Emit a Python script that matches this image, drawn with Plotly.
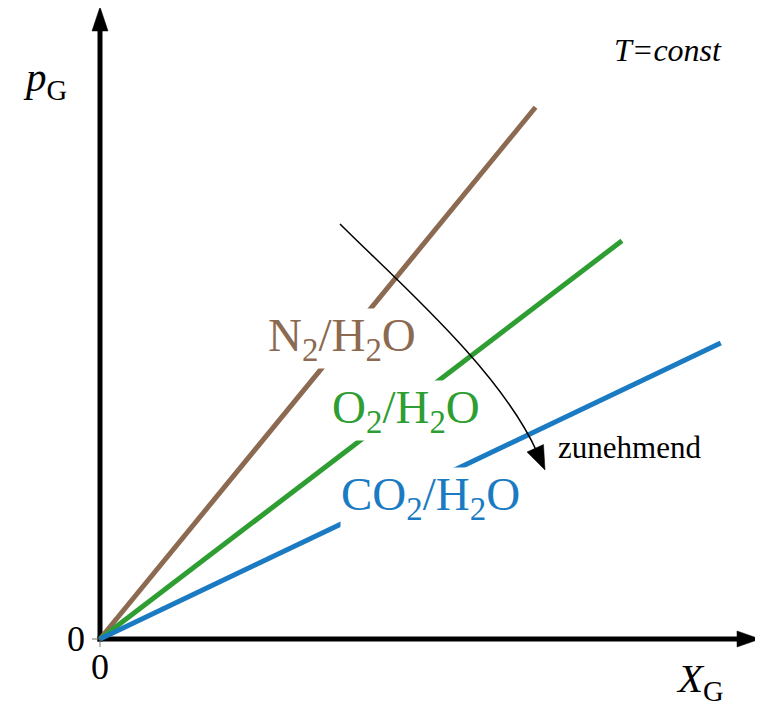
import plotly.graph_objects as go

# ---------------- data ----------------
gases = ["N<sub>2</sub>/H<sub>2</sub>O", "O<sub>2</sub>/H<sub>2</sub>O", "CO<sub>2</sub>/H<sub>2</sub>O"]
henry_slope = [1.28, 0.80, 0.50]        # p_G / X_G (relative units)
x_end = [0.67, 0.803, 0.955]            # end of each line on X_G axis
colors = ["#8C6A51", "#2E9E33", "#1B7BC2"]
label_x = [0.372, 0.47, 0.508]          # label centres (data units)
label_y = [0.485, 0.369, 0.229]
x_ticks = [0]
y_ticks = [0]

# ---------------- geometry ----------------
PAGE_W, PAGE_H = 763, 704
BODY = 8                    # default page margin around the plot div
W, H = PAGE_W - BODY, PAGE_H - BODY
OX, OY = 100, 639           # page pixel position of the origin
SX, SY = 650.0, 620.0       # pixels per data unit
xr = [(BODY - OX) / SX, (PAGE_W - OX) / SX]
yr = [-(PAGE_H - OY) / SY, (OY - BODY) / SY]


def P(px, py):
    return (px - OX) / SX, (OY - py) / SY


FONT = "Liberation Serif, Times New Roman, serif"

fig = go.Figure()
for name, k, xe, c in zip(gases, henry_slope, x_end, colors):
    fig.add_trace(go.Scatter(x=[0, xe], y=[0, k * xe], mode="lines",
                             line=dict(color=c, width=5), name=name,
                             hoverinfo="skip", showlegend=False))

shapes = []
# axes (lines + arrowheads)
x0, y0 = P(100, OY + 2.5)
x1, y1 = P(100, 30)
shapes.append(dict(type="line", xref="x", yref="y", x0=x0, y0=y0, x1=x1, y1=y1,
                   line=dict(color="black", width=5), layer="below"))
x0, y0 = P(97.5, OY)
x1, y1 = P(740, OY)
shapes.append(dict(type="line", xref="x", yref="y", x0=x0, y0=y0, x1=x1, y1=y1,
                   line=dict(color="black", width=5), layer="below"))


def tri(a, b, c):
    pts = [P(*a), P(*b), P(*c)]
    return "M %f,%f L %f,%f L %f,%f Z" % (pts[0] + pts[1] + pts[2])


shapes.append(dict(type="path", xref="x", yref="y", path=tri((100, 7), (92, 31), (108, 31)),
                   fillcolor="black", line=dict(color="black", width=0.5)))
shapes.append(dict(type="path", xref="x", yref="y", path=tri((760, OY), (737, OY - 8), (737, OY + 8)),
                   fillcolor="black", line=dict(color="black", width=0.5)))
# small tick marks at the origin
x0, y0 = P(92, OY)
x1, y1 = P(100, OY)
shapes.append(dict(type="line", xref="x", yref="y", x0=x0, y0=y0, x1=x1, y1=y1,
                   line=dict(color="#777", width=1), layer="below"))
x0, y0 = P(100, OY)
x1, y1 = P(100, OY + 8)
shapes.append(dict(type="line", xref="x", yref="y", x0=x0, y0=y0, x1=x1, y1=y1,
                   line=dict(color="#777", width=1), layer="below"))

# curved "zunehmend" arrow
p0, p1, p2, p3 = P(340, 224), P(397, 281), P(500, 370), P(537, 452)
shapes.append(dict(type="path", xref="x", yref="y",
                   path="M %f,%f C %f,%f %f,%f %f,%f" % (p0 + p1 + p2 + p3),
                   line=dict(color="black", width=1.5)))
shapes.append(dict(type="path", xref="x", yref="y", path=tri((545, 470), (527, 452), (543.5, 444.5)),
                   fillcolor="black", line=dict(color="black", width=0.5)))

annotations = []
for name, lx, ly, c in zip(gases, label_x, label_y, colors):
    annotations.append(dict(x=lx, y=ly, xref="x", yref="y", text=name, showarrow=False,
                            font=dict(family=FONT, size=47, color=c),
                            bgcolor="white", borderpad=0))

tx, ty = P(76, OY)
annotations.append(dict(x=tx, y=ty, text=str(y_ticks[0]), showarrow=False,
                        font=dict(family=FONT, size=36, color="black")))
tx, ty = P(101, 667)
annotations.append(dict(x=x_ticks[0], y=ty, text=str(x_ticks[0]), showarrow=False,
                        font=dict(family=FONT, size=36, color="black")))
tx, ty = P(45, 80)
annotations.append(dict(x=tx, y=ty, text="<i>p</i><sub>G</sub>", showarrow=False,
                        font=dict(family=FONT, size=41, color="black")))
tx, ty = P(700, 681)
annotations.append(dict(x=tx, y=ty, text="<i>X</i><sub>G</sub>", showarrow=False,
                        font=dict(family=FONT, size=41, color="black")))
tx, ty = P(668, 50)
annotations.append(dict(x=tx, y=ty, text="<i>T=const</i>", showarrow=False,
                        font=dict(family=FONT, size=32, color="black")))
tx, ty = P(556, 447)
annotations.append(dict(x=tx, y=ty, text="zunehmend", showarrow=False, xanchor="left",
                        font=dict(family=FONT, size=31, color="black")))

fig.update_layout(
    width=W, height=H, margin=dict(l=0, r=0, t=0, b=0),
    paper_bgcolor="white", plot_bgcolor="white",
    xaxis=dict(range=xr, visible=False, fixedrange=True),
    yaxis=dict(range=yr, visible=False, fixedrange=True),
    shapes=shapes, annotations=annotations, hovermode=False,
)
fig.write_html("out.html")
